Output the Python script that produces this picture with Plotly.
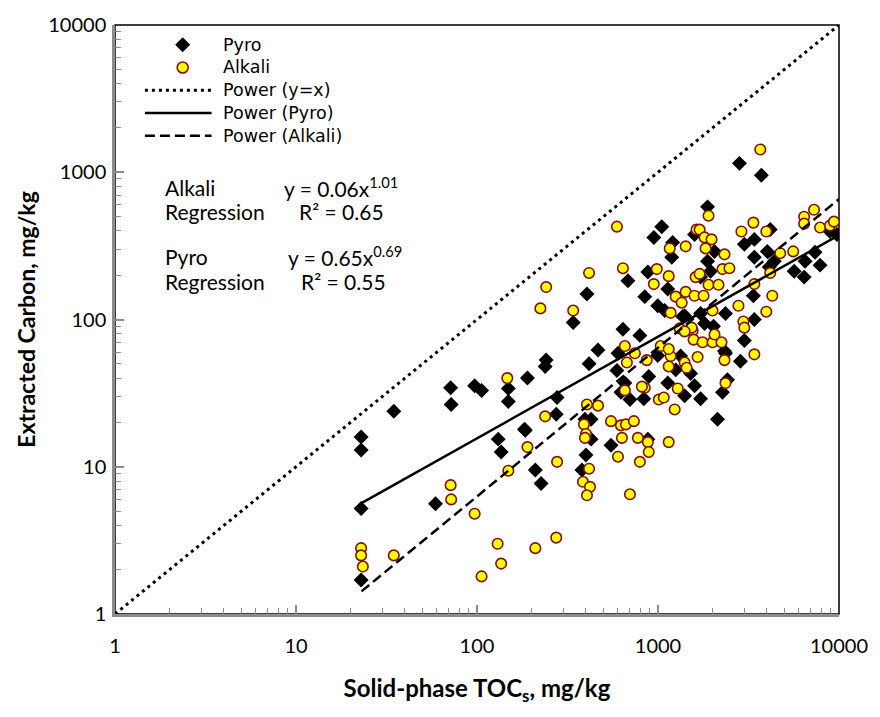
import numpy as np
import plotly.graph_objects as go

# ---------------- data ----------------
pyro_x = [22.9, 22.9, 22.9, 22.9, 34.7, 71.5, 72, 97, 106, 149, 149, 190, 59, 131, 136, 185, 210, 226,
          241, 238, 340, 416, 466, 640, 794, 601, 593, 656, 624, 700, 835, 889, 997, 1132, 277, 274,
          183, 395, 427, 400, 380, 550, 879, 2818, 3724, 1878, 1049, 948, 1205, 1191, 1592, 2052,
          3000, 3406, 4170, 3406, 4017, 4117, 5655, 6418, 6496, 7372, 7860, 8920, 9750, 879, 682,
          405, 845, 1132, 1368, 1719, 1808, 2360, 2027, 3365, 3406, 3000, 2853, 2132, 1719, 2271,
          2360, 2420, 1403, 1592, 1253, 1334, 1514, 997, 1089, 1403, 1878, 1951, 1719, 2330, 4389, 427]
pyro_y = [15.9, 13, 5.2, 1.7, 23.8, 34.4, 26.5, 35.5, 33, 34, 27.7, 40, 5.6, 15.4, 12.6, 17.7, 9.5, 7.7,
          53, 48, 95.5, 50, 62, 86, 78, 59, 45, 37, 32, 28.6, 29, 41, 124, 37, 29.5, 22.7,
          18, 21, 15.4, 12, 9.5, 14, 15.4, 1149, 955, 582, 427, 361, 334, 265, 378, 290,
          324, 350, 408, 265, 290, 227, 213, 194, 249, 286, 234, 396, 378, 210, 183,
          149, 143, 161, 105, 110, 94, 110, 90, 145, 100, 72, 52, 21, 29, 32,
          59, 39, 30.4, 35.5, 45.5, 56.5, 43, 57, 115, 106, 249, 213, 194, 61, 249, 21]

alkali_x = [22.9, 22.9, 23.4, 34.7, 147, 190, 149, 71.5, 72, 97, 130, 136, 106, 210, 224, 340, 238, 277,
            274, 405, 466, 390, 400, 395, 416, 385, 421, 405, 550, 624, 665, 736, 632, 601, 774, 879,
            889, 794, 700, 1146, 656, 745, 673, 656, 845, 867, 1035, 1175, 1146, 1010, 1076, 1236,
            1285, 1175, 593, 1422, 1161, 416, 640, 985, 1146, 948, 241, 1253, 1352, 1422, 1592, 1614,
            1553, 1633, 3675, 1902, 7280, 6418, 6418, 3365, 2890, 3966, 7860, 8920, 9375, 5585, 4733,
            4170, 3406, 4280, 2782, 3966, 2963, 3000, 3406, 1698, 1808, 1976, 1832, 2330, 2271, 2481,
            1698, 1902, 2159, 1786, 2001, 1535, 1573, 1763, 2001, 2243, 2052, 1655, 2330, 2360, 1318,
            1403, 1146, 1403, 1439, 815]
alkali_y = [2.8, 2.5, 2.1, 2.5, 40, 13.6, 9.4, 7.5, 6.0, 4.8, 3.0, 2.2, 1.8, 2.8, 119, 115, 22, 10.8,
            3.3, 26.5, 26, 19.4, 16.7, 15.7, 9.7, 7.9, 7.3, 6.4, 20.4, 19.1, 19.4, 20.4, 15.7, 11.7, 15.7, 14.7,
            12.6, 10.8, 6.5, 14.7, 66, 59, 51, 33, 34.4, 53, 66, 56.5, 48, 28.6, 29.5, 24.5,
            34, 111, 427, 314, 304, 207, 223, 220, 197, 174, 166, 143, 130, 154, 145, 194,
            84, 408, 1427, 507, 556, 499, 448, 455, 396, 396, 421, 434, 462, 290, 282,
            207, 174, 145, 124, 113, 97, 88, 58, 408, 361, 350, 304, 277, 220, 223,
            204, 172, 172, 145, 115, 88, 73, 70, 70, 70, 79, 55.6, 53, 37, 87,
            83, 63, 51, 47, 35]

# power-law trendlines y = a * x^b
fit_pyro = (0.65, 0.69)
fit_alkali = (0.06, 1.01)
fit_xrange = [23, 10000]
identity_x = [1, 10000]

tick_vals = [1, 10, 100, 1000, 10000]
tick_text = ["1", "10", "100", "1000", "10000"]

legend_names = ["Pyro", "Alkali", "Power (y=x)", "Power (Pyro)", "Power (Alkali)"]

FONT = "Lato"
LEG_FONT = "DejaVu Sans"
DOT = "3px,4px"
DASH = "10px,5px"
ALK_FILL = "#FFFF00"
ALK_EDGE = "#7F0F0F"

fig = go.Figure()

fig.add_trace(go.Scatter(
    x=pyro_x, y=pyro_y, mode="markers", name=legend_names[0], showlegend=False,
    marker=dict(symbol="diamond", size=11.5, color="black", line=dict(width=0))))
fig.add_trace(go.Scatter(
    x=alkali_x, y=alkali_y, mode="markers", name=legend_names[1], showlegend=False,
    marker=dict(symbol="circle", size=10.5, color=ALK_FILL, line=dict(width=1.6, color=ALK_EDGE))))

fig.add_trace(go.Scatter(
    x=identity_x, y=identity_x, mode="lines", name=legend_names[2], showlegend=False,
    line=dict(color="black", width=3, dash=DOT)))

fx = np.logspace(np.log10(fit_xrange[0]), np.log10(fit_xrange[1]), 50)
fig.add_trace(go.Scatter(
    x=fx, y=fit_pyro[0] * fx ** fit_pyro[1], mode="lines", name=legend_names[3], showlegend=False,
    line=dict(color="black", width=2.5)))
fig.add_trace(go.Scatter(
    x=fx, y=fit_alkali[0] * fx ** fit_alkali[1], mode="lines", name=legend_names[4], showlegend=False,
    line=dict(color="black", width=2.5, dash=DASH)))

axis_common = dict(
    type="log", range=[0, 4], tickvals=tick_vals, ticktext=tick_text,
    showgrid=False, zeroline=False, showline=True, linecolor="#8C8C8C", linewidth=2.5,
    ticks="inside", ticklen=9, tickwidth=1.5, tickcolor="#8C8C8C",
    minor=dict(ticks="inside", ticklen=6, tickwidth=1.2, tickcolor="#8C8C8C", dtick="D1", showgrid=False),
    tickfont=dict(family=FONT, size=20, color="black"),
)

fig.update_xaxes(**axis_common, ticklabelstandoff=12,
                 title=dict(text="<b>Solid-phase TOC<sub>s</sub>, mg/kg</b>",
                            font=dict(family=FONT, size=24, color="black"), standoff=25))
fig.update_yaxes(**axis_common, ticklabelstandoff=2,
                 title=dict(text="<b>Extracted Carbon, mg/kg</b>",
                            font=dict(family=FONT, size=23, color="black"), standoff=7))

# plot-area frame (top/right black)
fig.add_shape(type="rect", xref="paper", yref="paper", x0=0, y0=0, x1=1, y1=1,
              line=dict(color="black", width=1.5), layer="below")

# ---- legend box (drawn by hand to match the original's spacing) ----
leg_rows = [0.9664, 0.9279, 0.8893, 0.8507, 0.8121]
leg_text_x = 0.147
leg_mark_x = 0.0935
leg_line_x = (0.0413, 0.1334)
leg_font = dict(family=LEG_FONT, size=17.5, color="black")
for name, yp in zip(legend_names, leg_rows):
    fig.add_annotation(text=name, x=leg_text_x, y=yp, xref="paper", yref="paper",
                       xanchor="left", yanchor="middle", showarrow=False, font=leg_font)
row_y = leg_rows
fig.add_shape(type="path", xref="paper", yref="paper", xsizemode="pixel", ysizemode="pixel",
              xanchor=leg_mark_x, yanchor=row_y[0], path="M0,7.5 L7.5,0 L0,-7.5 L-7.5,0 Z",
              fillcolor="black", line=dict(width=0))
fig.add_shape(type="circle", xref="paper", yref="paper", xsizemode="pixel", ysizemode="pixel",
              xanchor=leg_mark_x, yanchor=row_y[1], x0=-5.5, x1=5.5, y0=-5.5, y1=5.5,
              fillcolor=ALK_FILL, line=dict(width=1.6, color=ALK_EDGE))
for yp, dash, w in zip(row_y[2:], [DOT, "solid", DASH], [3, 2.5, 2.5]):
    fig.add_shape(type="line", xref="paper", yref="paper", x0=leg_line_x[0], x1=leg_line_x[1],
                  y0=yp, y1=yp, line=dict(color="black", width=w, dash=dash))

# ---- regression labels ----
ann_font = dict(family=FONT, size=21, color="black")
annots = [
    ("Alkali", 0.066, 0.7248), ("Regression", 0.066, 0.6829),
    ("Pyro", 0.066, 0.6073), ("Regression", 0.066, 0.5637),
    ("y = 0.06x<sup>1.01</sup>", 0.2305, 0.7248), ("R² = 0.65", 0.2517, 0.6829),
    ("y = 0.65x<sup>0.69</sup>", 0.236, 0.6073), ("R² = 0.55", 0.2545, 0.5637),
]
for t, xp, yp in annots:
    fig.add_annotation(text=t, x=xp, y=yp, xref="paper", yref="paper",
                       xanchor="left", yanchor="middle", showarrow=False, font=ann_font)

fig.update_layout(
    width=880, height=717,
    margin=dict(l=115, r=38, t=18, b=103),
    paper_bgcolor="white", plot_bgcolor="white",
    font=dict(family=FONT, color="black"),
    showlegend=False,
)

fig.write_html("out.html")
